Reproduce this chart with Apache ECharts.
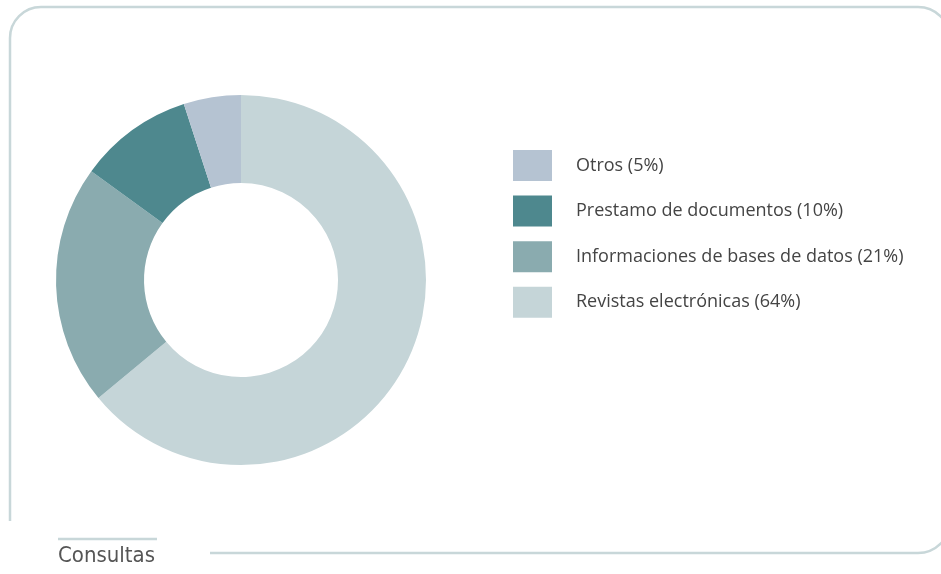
<!DOCTYPE html>
<html>
<head>
<meta charset="utf-8">
<script src="https://cdn.jsdelivr.net/npm/echarts@6/dist/echarts.min.js"></script>
<style>
  html, body { margin: 0; padding: 0; background: #fff; }
  #chart { width: 941px; height: 574px; }
</style>
</head>
<body>
<div id="chart"></div>
<script>
// slices, clockwise from 12 o'clock
const categories = ['Revistas electrónicas', 'Informaciones de bases de datos', 'Prestamo de documentos', 'Otros']
const values = [64, 21, 10, 5]
const colors = ['#c5d5d8', '#8aabaf', '#4e888e', '#b5c3d2']
// legend lists them the other way round
const legendOrder = ['Otros', 'Prestamo de documentos', 'Informaciones de bases de datos', 'Revistas electrónicas']
const chartTitle = 'Consultas'

const frameColor = '#c8d7d9'
const frameStyle = { fill: null, stroke: frameColor, lineWidth: 2.5 }

function frameLine(points) {
  return { type: 'polyline', silent: true, shape: { points: points }, style: frameStyle }
}
function frameCorner(cx, cy, r, a0, a1) {
  return {
    type: 'arc', silent: true,
    shape: { cx: cx, cy: cy, r: r, startAngle: a0, endAngle: a1, clockwise: true },
    style: frameStyle
  }
}

const chart = echarts.init(document.getElementById('chart'))
chart.setOption({
  animation: false,
  color: colors,
  title: {
    text: chartTitle,
    left: 53,
    top: 540,
    textStyle: {
      fontFamily: '"DejaVu Sans Condensed", "Liberation Sans Narrow", sans-serif',
      fontWeight: 'normal',
      fontSize: 22,
      color: '#555'
    }
  },
  legend: {
    orient: 'vertical',
    left: 513,
    top: 150,
    padding: 0,
    itemWidth: 39,
    itemHeight: 31,
    itemGap: 14.6,
    icon: 'rect',
    data: legendOrder,
    formatter: function(name) {
      const i = categories.indexOf(name)
      return name + ' (' + values[i] + '%)'
    },
    textStyle: {
      fontFamily: '"Open Sans", "Noto Sans", sans-serif',
      fontSize: 18,
      color: '#444',
      padding: [0, 0, 0, 19]
    }
  },
  graphic: [
    frameLine([[10, 521], [10, 38]]),
    frameCorner(41, 38, 31, Math.PI, Math.PI * 1.5),
    frameLine([[41, 7], [918, 7]]),
    frameCorner(918, 39, 32, Math.PI * 1.5, Math.PI * 2),
    frameLine([[950, 39], [950, 521]]),
    frameCorner(918, 521, 32, 0, Math.PI * 0.5),
    frameLine([[918, 553], [210, 553]]),
    frameLine([[58, 539], [157, 539]])
  ],
  series: [{
    type: 'pie',
    center: [241, 280],
    radius: [97, 185],
    startAngle: 90,
    clockwise: true,
    label: { show: false },
    labelLine: { show: false },
    emphasis: { disabled: true },
    itemStyle: { borderWidth: 0 },
    data: categories.map((name, i) => ({ name: name, value: values[i] }))
  }]
})
</script>
</body>
</html>
